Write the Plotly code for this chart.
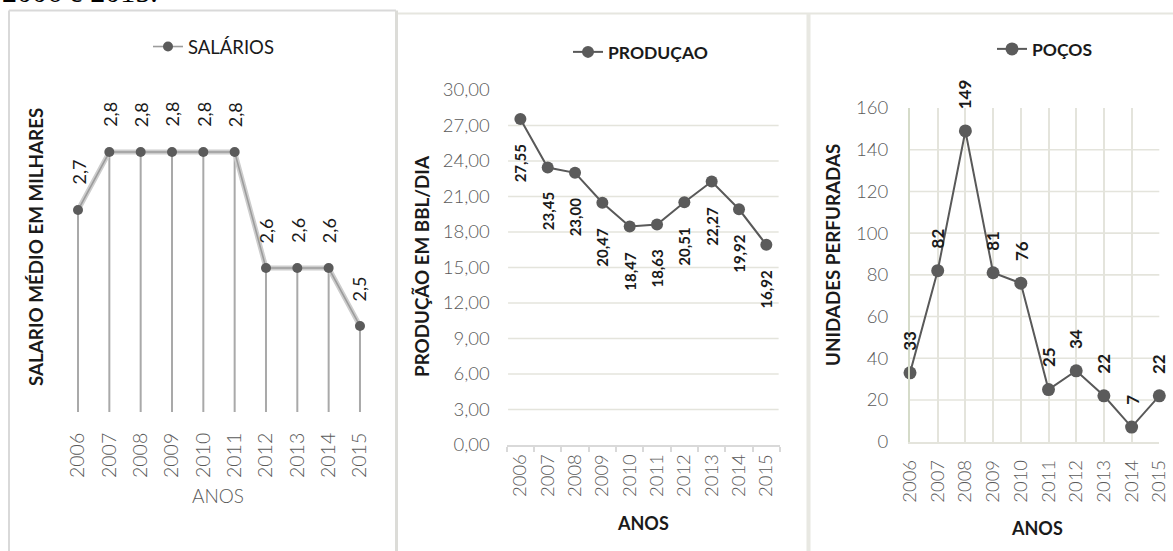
import plotly.graph_objects as go

W, H = 1173, 551

# ---- data -------------------------------------------------------------
anos = ['2006', '2007', '2008', '2009', '2010', '2011', '2012', '2013', '2014', '2015']
salarios = [2.7, 2.8, 2.8, 2.8, 2.8, 2.8, 2.6, 2.6, 2.6, 2.5]
producao = [27.55, 23.45, 23.00, 20.47, 18.47, 18.63, 20.51, 22.27, 19.92, 16.92]
pocos = [33, 82, 149, 81, 76, 25, 34, 22, 7, 22]
producao_ticks = [0, 3, 6, 9, 12, 15, 18, 21, 24, 27, 30]
pocos_ticks = [0, 20, 40, 60, 80, 100, 120, 140, 160]


def fx(p):
    return p / W


def fy(p):
    return 1 - p / H


def br(v, nd):
    return f"{v:.{nd}f}".replace('.', ',')


FONT = "Lato"
DARK = "#595959"
MARK = "#5b5b5b"
GRID = "#e4e4dc"
TICKC = "#595959"

fig = go.Figure()

# ---- panel 1: salaries ------------------------------------------------
sal_min, sal_max = 2.3517, 2.8552
fig.add_trace(go.Scatter(
    x=anos, y=salarios, mode='lines', xaxis='x', yaxis='y',
    line=dict(color='#cdcdcd', width=5), showlegend=False, hoverinfo='skip',
    error_y=dict(type='data', symmetric=False, array=[0] * len(salarios),
                 arrayminus=[v - sal_min for v in salarios],
                 color='#a9a9a9', thickness=2, width=0),
    cliponaxis=False,
))
fig.add_trace(go.Scatter(
    x=anos, y=salarios, mode='lines+markers', xaxis='x', yaxis='y',
    name='SALÁRIOS', legend='legend',
    line=dict(color='#9c9c9c', width=1.6),
    marker=dict(color=MARK, size=10), cliponaxis=False,
))

# ---- panel 2: production ---------------------------------------------
fig.add_trace(go.Scatter(
    x=anos, y=producao, mode='lines+markers', xaxis='x2', yaxis='y2',
    name='PRODUÇAO', legend='legend2',
    line=dict(color=DARK, width=2),
    marker=dict(color=MARK, size=12), cliponaxis=False,
))

# ---- panel 3: wells ---------------------------------------------------
fig.add_trace(go.Scatter(
    x=anos, y=pocos, mode='lines+markers', xaxis='x3', yaxis='y3',
    name='POÇOS', legend='legend3',
    line=dict(color=DARK, width=2),
    marker=dict(color=MARK, size=13), cliponaxis=False,
))

annotations = []

# value labels (category index used as x position)
for i, v in enumerate(salarios):
    annotations.append(dict(x=i, y=v, xref='x', yref='y', text=br(v, 1),
                            textangle=-90, showarrow=False, xanchor='center', yanchor='bottom',
                            yshift=23, font=dict(family=FONT, size=18, color='#1a1a1a')))
for i, v in enumerate(producao):
    annotations.append(dict(x=i, y=v, xref='x2', yref='y2', text='<b>' + br(v, 2) + '</b>',
                            textangle=-90, showarrow=False, xanchor='center', yanchor='top',
                            yshift=-23, font=dict(family=FONT, size=15, color='#1a1a1a')))
for i, v in enumerate(pocos):
    annotations.append(dict(x=i, y=v, xref='x3', yref='y3', text='<b>' + str(v) + '</b>',
                            textangle=-90, showarrow=False, xanchor='center', yanchor='bottom',
                            yshift=20, font=dict(family=FONT, size=17, color='#1a1a1a')))

# axis titles
title_font_b = dict(family=FONT, size=18.8, color='#1a1a1a')
ytitle_font = dict(family=FONT, size=18.8, color='#1a1a1a')
centred = dict(xref='paper', yref='paper', showarrow=False, xanchor='center', yanchor='middle')
annotations += [
    dict(centred, x=fx(35), y=fy(247), text='<b>SALARIO MÉDIO EM MILHARES</b>',
         textangle=-90, font=ytitle_font),
    dict(centred, x=fx(421), y=fy(266), text='<b>PRODUÇÃO EM BBL/DIA</b>',
         textangle=-90, font=ytitle_font),
    dict(centred, x=fx(833), y=fy(255), text='<b>UNIDADES PERFURADAS</b>',
         textangle=-90, font=ytitle_font),
    dict(centred, x=fx(218), y=fy(495), text='ANOS',
         font=dict(family=FONT, size=19, color=TICKC, weight=300)),
    dict(centred, x=fx(643), y=fy(523), text='<b>ANOS</b>', font=dict(family=FONT, size=18, color='#1a1a1a')),
    dict(centred, x=fx(1037), y=fy(528), text='<b>ANOS</b>', font=dict(family=FONT, size=18, color='#1a1a1a')),
    # caption line running above the charts
    dict(x=0, y=fy(10), xref='paper', yref='paper', showarrow=False,
         xanchor='left', yanchor='bottom', text='2006 e 2015.',
         font=dict(family='Liberation Serif', size=30, color='#000000')),
]

shapes = []
# horizontal gridlines (top tick left without a line)
for t in producao_ticks[1:-1]:
    shapes.append(dict(type='line', xref='x2 domain', yref='y2', x0=0.005, x1=0.995,
                       y0=t, y1=t, line=dict(color=GRID, width=1.6), layer='below'))
for t in pocos_ticks[1:-1]:
    shapes.append(dict(type='line', xref='x3 domain', yref='y3', x0=0, x1=1,
                       y0=t, y1=t, line=dict(color=GRID, width=1.6), layer='below'))

# panel frames
frame = dict(type='line', xref='paper', yref='paper', layer='below')
shapes += [
    dict(frame, x0=fx(9), x1=fx(396), y0=fy(10.5), y1=fy(10.5), line=dict(color='#d9d9d9', width=2)),
    dict(frame, x0=fx(9), x1=fx(9), y0=fy(10.5), y1=fy(560), line=dict(color='#d9d9d9', width=2)),
    dict(frame, x0=fx(396.5), x1=fx(396.5), y0=fy(10.5), y1=fy(560), line=dict(color='#dcdcd8', width=3)),
    dict(frame, x0=fx(398), x1=fx(1173), y0=fy(13.5), y1=fy(13.5), line=dict(color='#e6e6df', width=2)),
    dict(frame, x0=fx(808.5), x1=fx(808.5), y0=fy(13.5), y1=fy(560), line=dict(color='#e8e8e2', width=4)),
]

tickfont = dict(family=FONT, size=18.5, color=TICKC, weight=300)

fig.update_layout(
    template='none',
    width=W, height=H,
    margin=dict(l=0, r=0, t=0, b=0, pad=0, autoexpand=False),
    paper_bgcolor='white', plot_bgcolor='rgba(0,0,0,0)',
    separators=',.',
    showlegend=True,
    hovermode=False,
    annotations=annotations,
    shapes=shapes,
    xaxis=dict(type='category', domain=[fx(62.35), fx(375.65)], range=[-0.5, 9.5],
               anchor='y', showgrid=False, showline=False, zeroline=False, automargin=False,
               ticks='outside', ticklen=12, tickcolor='rgba(0,0,0,0)', tickangle=-90,
               tickfont=dict(family=FONT, size=19.5, color=TICKC, weight=300)),
    yaxis=dict(domain=[fy(412), fy(120)], range=[sal_min, sal_max], anchor='x',
               visible=False, automargin=False),
    xaxis2=dict(type='category', domain=[fx(506.7), fx(780)], range=[-0.5, 9.5],
                anchor='y2', showgrid=False, zeroline=False, automargin=False,
                showline=True, linecolor='#d9d9d9', linewidth=1.5,
                ticks='outside', tickson='boundaries', ticklen=5, tickcolor='#d9d9d9',
                tickwidth=1.5, tickangle=-90, tickfont=tickfont),
    yaxis2=dict(domain=[fy(445), fy(90)], range=[0, 30], anchor='x2',
                tickvals=producao_ticks, tickformat='.2f', showgrid=False,
                zeroline=False, showline=False, ticks='', ticklabelstandoff=16,
                automargin=False, tickfont=tickfont),
    xaxis3=dict(type='category', domain=[fx(910), fx(1159.3)], range=[0, 9],
                anchor='y3', showgrid=True, gridcolor=GRID, gridwidth=1.6,
                zeroline=False, showline=True, linecolor=GRID, linewidth=1.6,
                ticks='outside', ticklen=9, tickcolor='rgba(0,0,0,0)', automargin=False,
                tickangle=-90, tickfont=tickfont),
    yaxis3=dict(domain=[fy(441.7), fy(108)], range=[0, 160], anchor='x3',
                tickvals=pocos_ticks, showgrid=False, zeroline=False,
                showline=True, linecolor='#d5dbc9', linewidth=2, ticks='',
                ticklabelstandoff=16, automargin=False, tickfont=tickfont),
    legend=dict(x=fx(148), y=fy(47), xanchor='left', yanchor='middle',
                bgcolor='rgba(0,0,0,0)',
                font=dict(family=FONT, size=18.5, color='#1a1a1a')),
    legend2=dict(x=fx(568), y=fy(52), xanchor='left', yanchor='middle',
                 bgcolor='rgba(0,0,0,0)',
                 font=dict(family=FONT, size=17.5, color='#1a1a1a', weight='bold')),
    legend3=dict(x=fx(992), y=fy(49), xanchor='left', yanchor='middle',
                 bgcolor='rgba(0,0,0,0)',
                 font=dict(family=FONT, size=17.5, color='#1a1a1a', weight='bold')),
)

fig.write_html("out.html")
